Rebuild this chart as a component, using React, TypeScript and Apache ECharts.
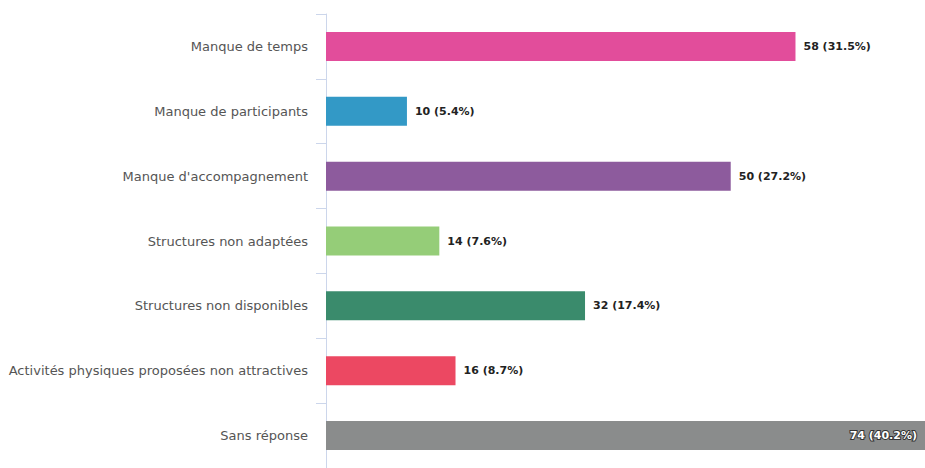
import React, { useEffect, useRef } from "react";
import * as echarts from "echarts";

const categories = [
  "Manque de temps",
  "Manque de participants",
  "Manque d'accompagnement",
  "Structures non adaptées",
  "Structures non disponibles",
  "Activités physiques proposées non attractives",
  "Sans réponse",
];
const counts = [58, 10, 50, 14, 32, 16, 74];
const percents = ["31.5%", "5.4%", "27.2%", "7.6%", "17.4%", "8.7%", "40.2%"];
const colors = ["#e24d9b", "#3399c6", "#8d5b9d", "#95cd78", "#3a8b6c", "#ec4862", "#8a8c8c"];

export default function App() {
  const ref = useRef<HTMLDivElement>(null);
  useEffect(() => {
    if (!ref.current) return;
    const chart = echarts.init(ref.current, null, { renderer: "svg" });
    const font = "'DejaVu Sans', sans-serif";
    chart.setOption({
      animation: false,
      grid: { left: 326, top: 14, width: 604, height: 459, containLabel: false },
      xAxis: {
        type: "value",
        min: 0,
        max: 74,
        show: false,
      },
      yAxis: {
        type: "category",
        inverse: true,
        data: categories,
        axisLine: { show: true, lineStyle: { color: "#ccd6eb", width: 1 } },
        axisTick: { show: true, length: 10, lineStyle: { color: "#ccd6eb" } },
        axisLabel: { color: "#555", fontSize: 13, fontFamily: font, margin: 18 },
      },
      series: [
        {
          type: "bar",
          barWidth: 29,
          clip: true,
          data: counts.map((v, i) => {
            const last = i === counts.length - 1;
            return {
              value: v,
              itemStyle: { color: colors[i] },
              label: last
                ? {
                    show: true,
                    position: "insideRight",
                    distance: 8,
                    color: "#fff",
                    textBorderColor: "#333",
                    textBorderWidth: 2,
                    fontWeight: "bold",
                    fontSize: 11,
                    fontFamily: font,
                    formatter: `${v} (${percents[i]})`,
                  }
                : {
                    show: true,
                    position: "right",
                    distance: 8,
                    color: "#222",
                    fontWeight: "bold",
                    fontSize: 11,
                    fontFamily: font,
                    formatter: `${v} (${percents[i]})`,
                  },
            };
          }),
        },
      ],
    });
    return () => chart.dispose();
  }, []);
  return <div ref={ref} style={{ width: 925, height: 468, position: "absolute", left: 0, top: 0 }} />;
}
